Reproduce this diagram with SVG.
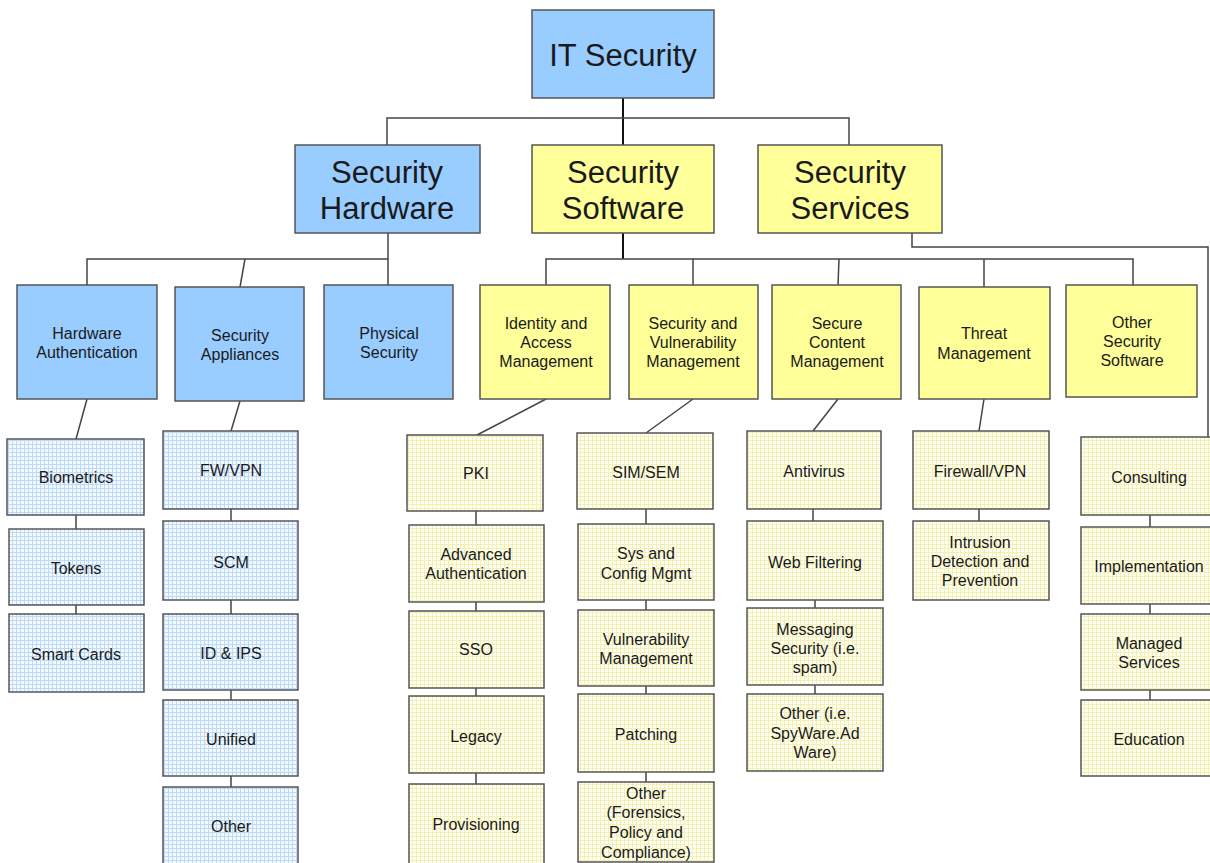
<svg xmlns="http://www.w3.org/2000/svg" width="1210" height="863" viewBox="0 0 1210 863">
<style>
.bl{fill:#99ccff;stroke:#555;stroke-width:1.5}
.ye{fill:#ffff99;stroke:#555;stroke-width:1.5}
.gb{fill:url(#gridB);stroke:#555;stroke-width:1.5}
.gy{fill:url(#gridY);stroke:#555;stroke-width:1.5}
text{font-family:"Liberation Sans",Arial,sans-serif;fill:#1a1a1a;text-anchor:middle}
.t1{font-size:31px}
.t2{font-size:16px}
.t3{font-size:16px}
.c{fill:none;stroke:#444;stroke-width:1.5}
.cm{fill:none;stroke:#111;stroke-width:2}
</style>
<defs>
<pattern id="gridB" width="4" height="4" patternUnits="userSpaceOnUse">
<rect width="4" height="4" fill="#f4f9ff"/>
<path d="M0 0.5H4M0.5 0V4" stroke="#bcdaf7" stroke-width="1"/>
</pattern>
<pattern id="gridY" width="4" height="4" patternUnits="userSpaceOnUse">
<rect width="4" height="4" fill="#fffff4"/>
<path d="M0 0.5H4M0.5 0V4" stroke="#f3f0b4" stroke-width="1"/>
</pattern>
</defs>
<rect width="1210" height="863" fill="#fff"/>

<g id="connectors">
<path class="cm" d="M623 98V145"/>
<path class="c" d="M387 145V118H849V145"/>
<path class="c" d="M388 233V259"/>
<path class="c" d="M87 285V259H388V285"/>
<path class="c" d="M245 259L240 287"/>
<path class="cm" d="M623 233V259"/>
<path class="c" d="M546 285V259H1133V285"/>
<path class="c" d="M693 259V285"/>
<path class="c" d="M839 259L838 285"/>
<path class="c" d="M984 259V287"/>
<path class="c" d="M912 233V247H1208V440"/>
<path class="c" d="M87 399L76 439M76 515V529M76 605V614"/>
<path class="c" d="M240 401L231 431M231 509V521M231 600V614M231 690V700M231 776V787"/>
<path class="c" d="M546 399L477 435M476 511V525M476 602V611M476 688V696M476 773V784"/>
<path class="c" d="M693 399L646 433M646 509V524M646 600V610M646 686V694M646 772V782"/>
<path class="c" d="M838 399L813 431M813 509V521M815 600V608M815 685V694"/>
<path class="c" d="M984 399L979 431M979 509V521"/>
<path class="c" d="M1150 515V527M1150 604V614M1150 690V700"/>
</g>

<g id="n-it"><rect class="bl" x="532" y="10" width="182" height="88"/><text class="t1" x="623" y="66">IT Security</text></g>
<g id="n-hw"><rect class="bl" x="295" y="145" width="185" height="88"/><text class="t1" x="387" y="183">Security</text><text class="t1" x="387" y="219">Hardware</text></g>
<g id="n-sw"><rect class="ye" x="532" y="145" width="182" height="88"/><text class="t1" x="623" y="183">Security</text><text class="t1" x="623" y="219">Software</text></g>
<g id="n-sv"><rect class="ye" x="758" y="145" width="184" height="88"/><text class="t1" x="850" y="183">Security</text><text class="t1" x="850" y="219">Services</text></g>

<g id="n-hwauth"><rect class="bl" x="17" y="285" width="140" height="114"/><text class="t2" x="87" y="339">Hardware</text><text class="t2" x="87" y="358">Authentication</text></g>
<g id="n-secapp"><rect class="bl" x="175" y="287" width="129" height="114"/><text class="t2" x="240" y="341">Security</text><text class="t2" x="240" y="360">Appliances</text></g>
<g id="n-phys"><rect class="bl" x="324" y="285" width="129" height="114"/><text class="t2" x="389" y="339">Physical</text><text class="t2" x="389" y="358">Security</text></g>
<g id="n-iam"><rect class="ye" x="480" y="285" width="130" height="114"/><text class="t2" x="546" y="329">Identity and</text><text class="t2" x="546" y="348">Access</text><text class="t2" x="546" y="367">Management</text></g>
<g id="n-svm"><rect class="ye" x="629" y="285" width="129" height="114"/><text class="t2" x="693" y="329">Security and</text><text class="t2" x="693" y="348">Vulnerability</text><text class="t2" x="693" y="367">Management</text></g>
<g id="n-scm"><rect class="ye" x="772" y="285" width="129" height="114"/><text class="t2" x="837" y="329">Secure</text><text class="t2" x="837" y="348">Content</text><text class="t2" x="837" y="367">Management</text></g>
<g id="n-threat"><rect class="ye" x="919" y="287" width="131" height="112"/><text class="t2" x="984" y="339">Threat</text><text class="t2" x="984" y="359">Management</text></g>
<g id="n-oss"><rect class="ye" x="1066" y="285" width="131" height="112"/><text class="t2" x="1132" y="328">Other</text><text class="t2" x="1132" y="347">Security</text><text class="t2" x="1132" y="366">Software</text></g>

<g id="n-bio"><rect class="gb" x="7" y="439" width="137" height="76"/><text class="t3" x="76" y="483">Biometrics</text></g>
<g id="n-tok"><rect class="gb" x="9" y="529" width="135" height="76"/><text class="t3" x="76" y="574">Tokens</text></g>
<g id="n-smart"><rect class="gb" x="9" y="614" width="135" height="78"/><text class="t3" x="76" y="660">Smart Cards</text></g>

<g id="n-fwvpn"><rect class="gb" x="163" y="431" width="135" height="78"/><text class="t3" x="231" y="476">FW/VPN</text></g>
<g id="n-scm2"><rect class="gb" x="163" y="521" width="135" height="79"/><text class="t3" x="231" y="568">SCM</text></g>
<g id="n-idips"><rect class="gb" x="163" y="614" width="135" height="76"/><text class="t3" x="231" y="659">ID &amp; IPS</text></g>
<g id="n-unified"><rect class="gb" x="163" y="700" width="135" height="76"/><text class="t3" x="231" y="745">Unified</text></g>
<g id="n-other1"><rect class="gb" x="163" y="787" width="135" height="80"/><text class="t3" x="231" y="832">Other</text></g>

<g id="n-pki"><rect class="gy" x="407" y="435" width="136" height="76"/><text class="t3" x="476" y="479">PKI</text></g>
<g id="n-adv"><rect class="gy" x="409" y="525" width="135" height="77"/><text class="t3" x="476" y="560">Advanced</text><text class="t3" x="476" y="579">Authentication</text></g>
<g id="n-sso"><rect class="gy" x="409" y="611" width="135" height="77"/><text class="t3" x="476" y="655">SSO</text></g>
<g id="n-legacy"><rect class="gy" x="409" y="696" width="135" height="77"/><text class="t3" x="476" y="742">Legacy</text></g>
<g id="n-prov"><rect class="gy" x="409" y="784" width="135" height="82"/><text class="t3" x="476" y="830">Provisioning</text></g>

<g id="n-sim"><rect class="gy" x="577" y="433" width="136" height="76"/><text class="t3" x="646" y="478">SIM/SEM</text></g>
<g id="n-sys"><rect class="gy" x="578" y="524" width="136" height="76"/><text class="t3" x="646" y="559">Sys and</text><text class="t3" x="646" y="579">Config Mgmt</text></g>
<g id="n-vuln"><rect class="gy" x="578" y="610" width="136" height="76"/><text class="t3" x="646" y="645">Vulnerability</text><text class="t3" x="646" y="664">Management</text></g>
<g id="n-patch"><rect class="gy" x="578" y="694" width="136" height="78"/><text class="t3" x="646" y="740">Patching</text></g>
<g id="n-other2"><rect class="gy" x="578" y="782" width="136" height="80"/><text class="t3" x="646" y="799">Other</text><text class="t3" x="646" y="818">(Forensics,</text><text class="t3" x="646" y="838">Policy and</text><text class="t3" x="646" y="858">Compliance)</text></g>

<g id="n-av"><rect class="gy" x="747" y="431" width="134" height="78"/><text class="t3" x="814" y="477">Antivirus</text></g>
<g id="n-web"><rect class="gy" x="747" y="521" width="136" height="79"/><text class="t3" x="815" y="568">Web Filtering</text></g>
<g id="n-msg"><rect class="gy" x="747" y="608" width="136" height="77"/><text class="t3" x="815" y="635">Messaging</text><text class="t3" x="815" y="654">Security (i.e.</text><text class="t3" x="815" y="673">spam)</text></g>
<g id="n-other3"><rect class="gy" x="747" y="694" width="136" height="77"/><text class="t3" x="815" y="719">Other (i.e.</text><text class="t3" x="815" y="739">SpyWare.Ad</text><text class="t3" x="815" y="758">Ware)</text></g>

<g id="n-fw"><rect class="gy" x="913" y="431" width="136" height="78"/><text class="t3" x="980" y="477">Firewall/VPN</text></g>
<g id="n-ids"><rect class="gy" x="913" y="521" width="136" height="79"/><text class="t3" x="980" y="548">Intrusion</text><text class="t3" x="980" y="567">Detection and</text><text class="t3" x="980" y="586">Prevention</text></g>

<g id="n-cons"><rect class="gy" x="1081" y="437" width="135" height="78"/><text class="t3" x="1149" y="483">Consulting</text></g>
<g id="n-impl"><rect class="gy" x="1081" y="527" width="135" height="77"/><text class="t3" x="1149" y="572">Implementation</text></g>
<g id="n-managed"><rect class="gy" x="1081" y="614" width="135" height="76"/><text class="t3" x="1149" y="649">Managed</text><text class="t3" x="1149" y="668">Services</text></g>
<g id="n-edu"><rect class="gy" x="1081" y="700" width="135" height="76"/><text class="t3" x="1149" y="745">Education</text></g>
</svg>
